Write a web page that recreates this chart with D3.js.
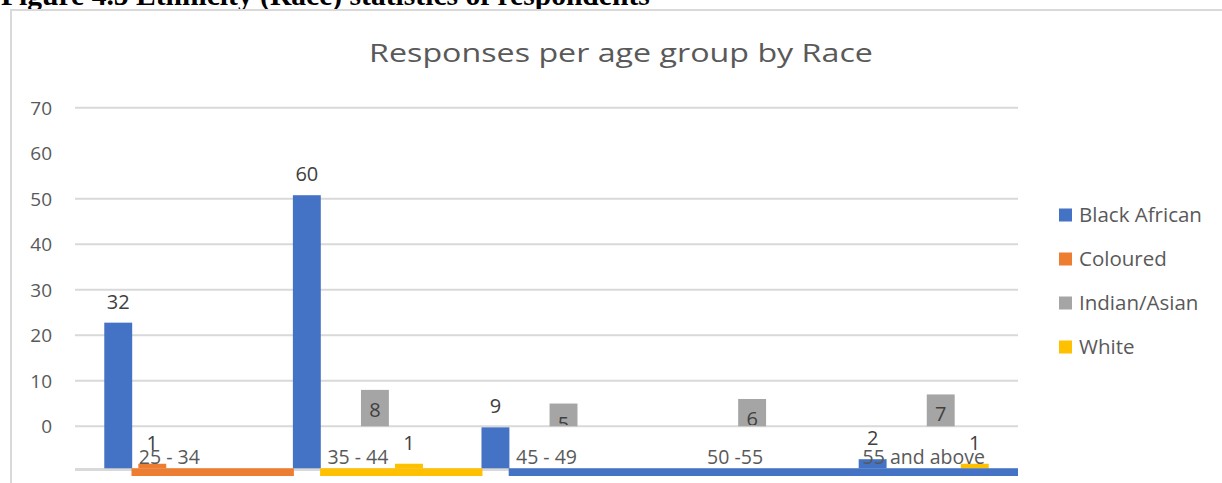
<!DOCTYPE html>
<html>
<head>
<meta charset="utf-8">
<script src="https://cdn.jsdelivr.net/npm/d3@7"></script>
<style>
  body { margin: 0; background: #fff; }
  svg { display: block; }
  .sans { font-family: "Open Sans", "Noto Sans", sans-serif; }
</style>
</head>
<body>
<svg id="chart" width="1222" height="483"></svg>
<script>
// ---- data ----
const categories = ["25 - 34", "35 - 44", "45 - 49", "50 -55", "55 and above"];
const seriesNames = ["Black African", "Coloured", "Indian/Asian", "White"];
const blackAfrican = [32, 60, 9, null, 2];
const coloured = [1, null, null, null, null];
const indianAsian = [null, 8, 5, 6, 7];
const white = [null, 1, null, null, 1];
const yTickValues = [0, 10, 20, 30, 40, 50, 60, 70];
const gridValues = [0, 10, 20, 30, 40, 50, 70];
const seriesColors = ["#4472C4", "#ED7D31", "#A5A5A5", "#FFC000"];
// colour bands running along the category axis, one per gap between groups
const axisBandSeries = ["Coloured", "White", "Black African"];

const seriesValues = [blackAfrican, coloured, indianAsian, white];
const series = seriesNames.map((name, i) => ({
  name, color: seriesColors[i],
  points: categories.map((c, j) => ({ category: c, value: seriesValues[i][j], name }))
}));
const colorOf = d3.scaleOrdinal(seriesNames, seriesColors);

// ---- layout ----
const svg = d3.select("#chart");
const plotLeft = 75, plotRight = 1018;
const axisY = 468.3;          // category axis line
const x0 = d3.scaleBand().domain(categories).range([plotLeft, plotRight]).paddingInner(0).paddingOuter(0);
const x1 = d3.scaleBand().domain(seriesNames).range([0, x0.bandwidth()])
  .paddingInner(0.18).paddingOuter(0.86);
const y = d3.scaleLinear().domain([0, 70]).range([426.3, 107.7]);
const unit = v => y(0) - y(v);   // pixel length of a value

// caption above the chart frame
const caption = svg.append("text")
  .attr("x", 1).attr("y", 5)
  .style("font-family", "'Liberation Serif', 'DejaVu Serif', serif")
  .style("font-weight", "bold")
  .style("font-size", "20px")
  .attr("fill", "#000")
  .text("Figure 4.5 Ethnicity (Race) statistics of respondents");
const capLen = caption.node().getComputedTextLength();
caption.style("font-size", (20 * 649 / capLen) + "px");

// chart frame
svg.append("path")
  .attr("d", "M11,483V10H1222")
  .attr("fill", "none").attr("stroke", "#d9d9d9").attr("stroke-width", 2);

// title, widened to the frame's title width
const title = svg.append("text").attr("class", "sans")
  .attr("text-anchor", "middle")
  .style("font-size", "26px")
  .attr("fill", "#595959")
  .text("Responses per age group by Race");
const titleLen = title.node().getComputedTextLength();
title.attr("transform", `translate(621,62) scale(${504 / titleLen},1)`);

// gridlines
svg.append("g").selectAll("line").data(gridValues).join("line")
  .attr("x1", plotLeft).attr("x2", plotRight)
  .attr("y1", d => y(d)).attr("y2", d => y(d))
  .attr("stroke", "#d9d9d9").attr("stroke-width", 2);

// value axis labels
const yAxis = d3.axisLeft(y).tickValues(yTickValues).tickSize(0).tickPadding(0);
const gy = svg.append("g").attr("transform", "translate(52,0)").call(yAxis);
gy.select(".domain").remove();
gy.selectAll("text").attr("class", "sans")
  .style("font-size", "19px").attr("fill", "#595959").attr("dy", "0.35em");

// category axis line
svg.append("line")
  .attr("x1", plotLeft).attr("x2", plotRight)
  .attr("y1", axisY + 1.3).attr("y2", axisY + 1.3)
  .attr("stroke", "#d9d9d9").attr("stroke-width", 3);

// bars: Indian/Asian stands on the value zero line, the others on the category axis
const baseOf = name => name === "Indian/Asian" ? y(0) : axisY;
const groups = svg.append("g").selectAll("g").data(categories).join("g")
  .attr("transform", d => `translate(${x0(d)},0)`);
const barData = cat => series.map(s => s.points.find(p => p.category === cat)).filter(p => p.value != null);
groups.selectAll("rect").data(barData).join("rect")
  .attr("x", d => x1(d.name))
  .attr("width", x1.bandwidth())
  .attr("y", d => baseOf(d.name) - unit(d.value))
  .attr("height", d => unit(d.value))
  .attr("fill", d => colorOf(d.name));

// colour bands under the category axis, spanning the gaps between Black African bars
const baBand = x1("Black African");
const bands = axisBandSeries.map((name, i) => ({
  name,
  x1: x0(categories[i]) + baBand + x1.bandwidth() - 0.7,
  x2: i + 1 < axisBandSeries.length ? x0(categories[i + 1]) + baBand + 1 : plotRight
}));
svg.append("g").selectAll("rect").data(bands).join("rect")
  .attr("x", d => d.x1).attr("width", d => d.x2 - d.x1)
  .attr("y", axisY).attr("height", 7.7)
  .attr("fill", d => colorOf(d.name));

// category labels
svg.append("g").selectAll("text").data(categories).join("text")
  .attr("class", "sans")
  .attr("x", d => x0(d) + x0.bandwidth() / 2)
  .attr("y", 457).attr("dy", "0.35em")
  .attr("text-anchor", "middle")
  .style("font-size", "19.5px").attr("fill", "#595959")
  .text(d => d);

// data labels: outside end for most series, inside end for Indian/Asian (clipped at zero line)
svg.append("clipPath").attr("id", "aboveZero")
  .append("rect").attr("x", 0).attr("y", 0).attr("width", 1222).attr("height", y(0) - 1.2);
groups.selectAll("text.val").data(barData).join("text")
  .attr("class", "val sans")
  .attr("clip-path", d => d.name === "Indian/Asian" ? "url(#aboveZero)" : null)
  .attr("x", d => x1(d.name) + x1.bandwidth() / 2)
  .attr("y", d => {
    const top = baseOf(d.name) - unit(d.value);
    return d.name === "Indian/Asian" ? top + 20 : top - 21;
  })
  .attr("dy", "0.35em")
  .attr("text-anchor", "middle")
  .style("font-size", "20px").attr("fill", "#404040")
  .text(d => d.value);

// legend
const legend = svg.append("g").selectAll("g").data(seriesNames).join("g")
  .attr("transform", (d, i) => `translate(1059,${215 + i * 44})`);
legend.append("rect").attr("x", 0).attr("y", -6.5).attr("width", 13).attr("height", 13)
  .attr("fill", d => colorOf(d));
legend.append("text").attr("class", "sans")
  .attr("x", 20).attr("y", 0).attr("dy", "0.35em")
  .style("font-size", "20.5px").attr("fill", "#595959")
  .text(d => d);
</script>
</body>
</html>
